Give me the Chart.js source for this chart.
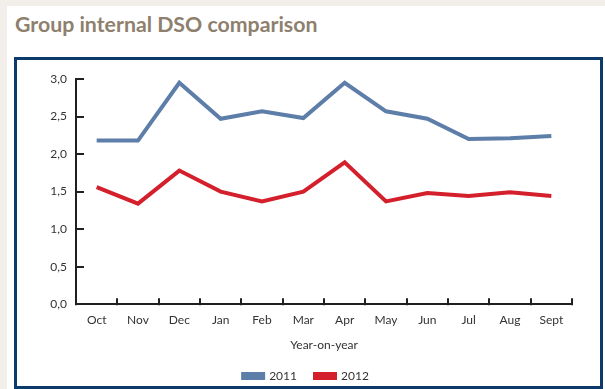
<!DOCTYPE html>
<html>
<head>
<meta charset="utf-8">
<script src="https://cdn.jsdelivr.net/npm/chart.js@4.4.1/dist/chart.umd.min.js"></script>
<style>
    html, body {
        margin: 0;
        padding: 0;
        width: 605px;
        height: 389px;
        overflow: hidden;
        background: #f2efea;
    }
    .panel {
        position: absolute;
        left: 7px;
        top: 6px;
        width: 598px;
        height: 383px;
        background: #ffffff;
    }
    .title {
        position: absolute;
        left: 15px;
        top: 11px;
        font-family: Lato, "Noto Sans", sans-serif;
        font-weight: 700;
        font-size: 21.3px;
        color: #8e806d;
        white-space: nowrap;
    }
    .frame {
        position: absolute;
        left: 14px;
        top: 57px;
        width: 583px;
        height: 326px;
        border: 3px solid #0b3a6b;
        background: #ffffff;
    }
    .chart-wrap {
        position: absolute;
        left: 0;
        top: 0;
        width: 605px;
        height: 392px;
    }
</style>
</head>
<body>
<div class="panel"></div>
<div class="title">Group internal DSO comparison</div>
<div class="frame"></div>
<div class="chart-wrap"><canvas id="dso-chart"></canvas></div>
<script>
const months = ["Oct", "Nov", "Dec", "Jan", "Feb", "Mar", "Apr", "May", "Jun", "Jul", "Aug", "Sept"];
const dso2011 = [2.18, 2.18, 2.95, 2.47, 2.57, 2.48, 2.95, 2.57, 2.47, 2.20, 2.21, 2.24];
const dso2012 = [1.56, 1.34, 1.78, 1.50, 1.37, 1.50, 1.89, 1.37, 1.48, 1.44, 1.49, 1.44];
const yTicks = [0, 0.5, 1, 1.5, 2, 2.5, 3];

const axisColor = "#231f20";
const textColor = "#333333";
const font = { family: "Lato, 'Noto Sans', sans-serif", size: 12 };

// short tick marks pointing into the plot, like the print version
const innerTicks = {
    id: "innerTicks",
    afterDraw(chart) {
        const { ctx, scales: { x, y } } = chart;
        ctx.save();
        ctx.strokeStyle = axisColor;
        ctx.lineWidth = 2;
        ctx.beginPath();
        yTicks.forEach((v) => {
            const py = Math.round(y.getPixelForValue(v));
            ctx.moveTo(x.left, py);
            ctx.lineTo(x.left + 8, py);
        });
        for (let i = 0; i <= months.length; i++) {
            const px = Math.round(x.getPixelForValue(i - 0.5));
            ctx.moveTo(px, y.bottom + 1);
            ctx.lineTo(px, y.bottom - 6);
        }
        ctx.stroke();
        ctx.restore();
    },
};

function dsoChart() {
    const ctx = document.getElementById("dso-chart").getContext("2d");

    const config = {
        type: "line",
        data: {
            labels: months,
            datasets: [
                {
                    label: "2011",
                    data: dso2011,
                    borderColor: "#5d7ea9",
                    backgroundColor: "#5d7ea9",
                    borderWidth: 4,
                    pointRadius: 0,
                    tension: 0,
                },
                {
                    label: "2012",
                    data: dso2012,
                    borderColor: "#d4202c",
                    backgroundColor: "#d4202c",
                    borderWidth: 4,
                    pointRadius: 0,
                    tension: 0,
                },
            ],
        },
        options: {
            responsive: true,
            maintainAspectRatio: false,
            animation: false,
            layout: { padding: { left: 40, right: 33, top: 79, bottom: 0 } },
            plugins: {
                legend: {
                    position: "bottom",
                    labels: {
                        boxWidth: 20,
                        boxHeight: 4,
                        padding: 18,
                        color: textColor,
                        font: font,
                    },
                },
                tooltip: { enabled: false },
            },
            scales: {
                x: {
                    offset: true,
                    grid: { display: false, drawTicks: false },
                    border: { display: true, color: axisColor, width: 2 },
                    ticks: { color: textColor, padding: 9, font: font },
                    title: {
                        display: true,
                        text: "Year-on-year",
                        color: textColor,
                        padding: { top: 1, bottom: 0 },
                        font: font,
                    },
                },
                y: {
                    min: 0,
                    max: 3,
                    afterBuildTicks: (axis) => {
                        axis.ticks = yTicks.map((v) => ({ value: v }));
                    },
                    afterFit: (axis) => {
                        axis.width = 36;
                    },
                    grid: { display: false, drawTicks: false },
                    border: { display: true, color: axisColor, width: 2 },
                    ticks: {
                        color: textColor,
                        padding: 9,
                        font: font,
                        callback: (v) => Number(v).toFixed(1).replace(".", ","),
                    },
                },
            },
        },
        plugins: [innerTicks],
    };

    new Chart(ctx, config);
}

document.addEventListener("DOMContentLoaded", dsoChart);
</script>
</body>
</html>
